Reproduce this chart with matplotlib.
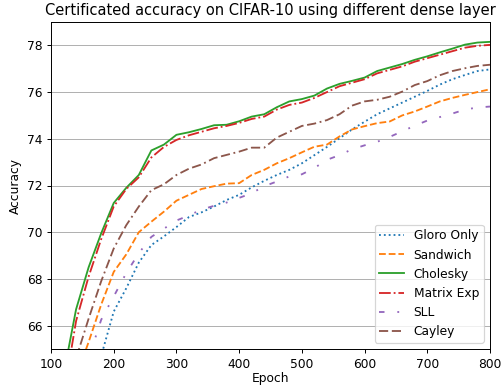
import numpy as np
import matplotlib
matplotlib.use('Agg')
import matplotlib.pyplot as plt

epochs = np.arange(100, 801, 20)

gloro_only = [57.0, 59.0, 61.0, 62.8, 64.7, 66.6, 67.6, 68.7, 69.45, 69.82,
              70.22, 70.65, 70.85, 71.1, 71.38, 71.6, 71.92, 72.2, 72.45, 72.67,
              72.95, 73.3, 73.65, 74.02, 74.4, 74.73, 75.05, 75.3, 75.55, 75.8,
              76.05, 76.32, 76.55, 76.73, 76.9, 76.97]
sandwich = [60.5, 62.2, 63.8, 65.3, 66.9, 68.3, 69.05, 70.0, 70.45, 70.88,
            71.35, 71.6, 71.85, 71.97, 72.08, 72.1, 72.45, 72.67, 72.95, 73.17,
            73.42, 73.66, 73.75, 74.1, 74.4, 74.54, 74.67, 74.74, 75.0, 75.17,
            75.38, 75.6, 75.75, 75.88, 76.0, 76.12]
cholesky = [60.5, 63.9, 66.7, 68.5, 69.95, 71.25, 71.9, 72.45, 73.5, 73.75,
            74.17, 74.28, 74.42, 74.58, 74.6, 74.75, 74.95, 75.05, 75.35, 75.6,
            75.7, 75.85, 76.15, 76.35, 76.48, 76.62, 76.9, 77.05, 77.2, 77.38,
            77.53, 77.7, 77.86, 78.03, 78.12, 78.15]
matrix_exp = [59.5, 63.0, 66.2, 68.1, 69.7, 71.1, 71.85, 72.35, 73.2, 73.65,
              73.95, 74.15, 74.3, 74.45, 74.55, 74.68, 74.85, 74.95, 75.25, 75.45,
              75.55, 75.75, 76.0, 76.25, 76.4, 76.55, 76.8, 76.95, 77.1, 77.3,
              77.45, 77.6, 77.75, 77.9, 77.98, 78.02]
sll = [60.0, 61.5, 63.0, 64.6, 66.25, 67.25, 68.25, 69.1, 69.8, 70.15,
       70.5, 70.72, 70.97, 71.13, 71.27, 71.47, 71.67, 71.97, 72.17, 72.39,
       72.48, 72.75, 73.1, 73.3, 73.55, 73.72, 73.87, 74.08, 74.32, 74.56,
       74.78, 74.93, 75.08, 75.25, 75.34, 75.38]
cayley = [61.5, 63.2, 64.6, 66.3, 67.9, 69.3, 70.3, 71.1, 71.8, 72.05,
          72.45, 72.72, 72.9, 73.17, 73.31, 73.45, 73.62, 73.62, 74.05, 74.3,
          74.55, 74.65, 74.8, 75.05, 75.42, 75.6, 75.67, 75.8, 76.02, 76.3,
          76.47, 76.72, 76.9, 77.02, 77.12, 77.17]

dpi = 88
fig = plt.figure(figsize=(502 / dpi, 385 / dpi), dpi=dpi)
ax = fig.add_axes([51 / 502, 36 / 385, 439 / 502, 327 / 385])

ax.plot(epochs, gloro_only, linestyle=':', color='tab:blue', label='Gloro Only')
ax.plot(epochs, sandwich, linestyle='--', color='tab:orange', label='Sandwich')
ax.plot(epochs, cholesky, linestyle='-', color='tab:green', label='Cholesky')
ax.plot(epochs, matrix_exp, linestyle='-.', color='tab:red', label='Matrix Exp')
ax.plot(epochs, sll, linestyle=(0, (3, 7, 1, 7)), color='tab:purple', label='SLL')
ax.plot(epochs, cayley, linestyle=(0, (5, 2, 5, 2, 1, 2)), color='tab:brown', label='Cayley')

ax.set_xlim(100, 800)
ax.set_ylim(65, 79)
ax.set_yticks([66, 68, 70, 72, 74, 76, 78])
ax.grid(axis='y')
ax.set_xlabel('Epoch', labelpad=1)
ax.set_ylabel('Accuracy')
ax.set_title('Certificated accuracy on CIFAR-10 using different dense layer')
ax.legend(loc='lower right')

fig.savefig('out.png', dpi=dpi)
